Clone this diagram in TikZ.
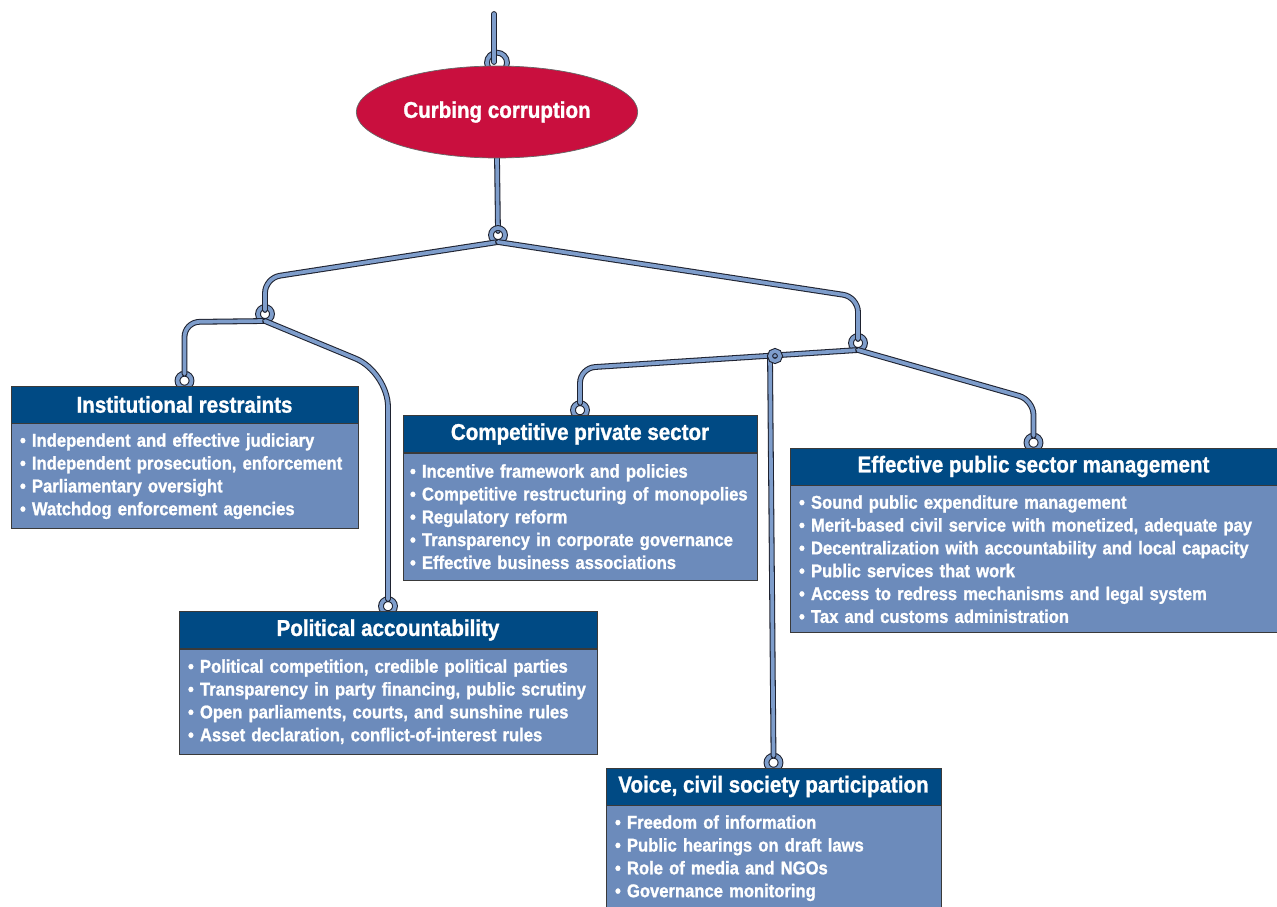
\documentclass[tikz,border=0pt]{standalone}
\usepackage{fontspec}
\setmainfont{Liberation Sans}[FakeStretch=0.9, BoldFeatures={FakeBold=1.2}]
\usetikzlibrary{positioning,shapes.geometric,backgrounds}
\definecolor{hdblue}{HTML}{004A84}
\definecolor{bodyblue}{HTML}{6C8BBB}
\definecolor{corrred}{HTML}{C90F3E}
\definecolor{wireblue}{HTML}{7E9DCB}
\definecolor{wireedge}{HTML}{1E2230}
\definecolor{boxline}{HTML}{3A3A3A}
\newcommand{\hdfont}{\fontsize{13}{15}\selectfont\bfseries}
\newcommand{\itemfont}{\fontsize{10.5}{13}\selectfont\bfseries\hyphenpenalty=10000}
\tikzset{
  hdbox/.style={draw=boxline, fill=hdblue, text=white, font=\hdfont, minimum height=0.74cm, inner sep=0pt},
  itembox/.style={draw=boxline, fill=bodyblue, text=white, font=\itemfont, align=left, inner xsep=0.18cm, inner ysep=0pt},
  wire/.style={draw=wireedge, line width=0.6pt, double=wireblue, double distance=2.1pt, rounded corners=0.3cm, line cap=round},
  eye/.style={wire, rounded corners=0pt}
}

\begin{document}
\begin{tikzpicture}[x=0.02cm, y=-0.02cm]
\useasboundingbox (0,0) rectangle (1277,906);

\node[ellipse, fill=corrred, draw=black!60, minimum width=5.56cm, minimum height=1.84cm, text=white, font=\hdfont] (curb) at (497,112) {Curbing corruption};

% boxes
\node[hdbox, minimum width=6.94cm] (insthd) at (184.5,404.5) {Institutional restraints};
\node[itembox, text width=6.58cm, minimum height=2.1cm, below=0pt of insthd] (instlist) {\textbullet\ Independent and effective judiciary\\
\textbullet\ Independent prosecution, enforcement\\
\textbullet\ Parliamentary oversight\\
\textbullet\ Watchdog enforcement agencies};

\node[hdbox, minimum width=7.08cm] (comphd) at (580,434) {Competitive private sector};
\node[itembox, inner xsep=0.14cm, text width=6.8cm, minimum height=2.54cm, below=0pt of comphd] (complist) {\textbullet\ Incentive framework and policies\\
\textbullet\ Competitive restructuring of monopolies\\
\textbullet\ Regulatory reform\\
\textbullet\ Transparency in corporate governance\\
\textbullet\ Effective business associations};

\node[hdbox, minimum width=9.74cm] (effhd) at (1033.5,466.5) {Effective public sector management};
\node[itembox, text width=9.38cm, minimum height=2.94cm, below=0pt of effhd] (efflist) {\textbullet\ Sound public expenditure management\\
\textbullet\ Merit-based civil service with monetized, adequate pay\\
\textbullet\ Decentralization with accountability and local capacity\\
\textbullet\ Public services that work\\
\textbullet\ Access to redress mechanisms and legal system\\
\textbullet\ Tax and customs administration};

\node[hdbox, minimum width=8.36cm] (polhd) at (388,630) {Political accountability};
\node[itembox, text width=8cm, minimum height=2.1cm, below=0pt of polhd] (pollist) {\textbullet\ Political competition, credible political parties\\
\textbullet\ Transparency in party financing, public scrutiny\\
\textbullet\ Open parliaments, courts, and sunshine rules\\
\textbullet\ Asset declaration, conflict-of-interest rules};

\node[hdbox, minimum width=6.7cm] (voicehd) at (773.5,786.5) {Voice, civil society participation};
\node[itembox, text width=6.34cm, minimum height=2.1cm, below=0pt of voicehd] (voicelist) {\textbullet\ Freedom of information\\
\textbullet\ Public hearings on draft laws\\
\textbullet\ Role of media and NGOs\\
\textbullet\ Governance monitoring};

% hanging points
\coordinate (top) at (494,14);
\coordinate (j1) at (498,235);
\coordinate (j2) at (265,314);
\coordinate (j3) at (858,343);
\coordinate (hook) at (775,356);

\begin{scope}[on background layer]
\draw[eye] ([yshift=0.06cm]curb.north) circle (0.2cm);
\draw[wire] (top) -- (top |- 0,62);
\draw[wire] (curb.south) -- ([yshift=0.08cm]j1);
\foreach \j in {j1,j2,j3}
  \draw[eye] (\j) circle (0.14cm);
\foreach \b in {insthd,comphd,effhd,polhd,voicehd}
  \draw[eye] ([yshift=0.1cm]\b.north) circle (0.14cm);
% bars
\draw[wire] ([yshift=-0.14cm]j2) -- (insthd.north |- 0,322) -- ([yshift=0.24cm]insthd.north);
\draw[wire] ([yshift=-0.14cm]j1) -- (j2 |- 0,278) -- ([yshift=0.08cm]j2);
\draw[wire] ([yshift=-0.14cm]j1) -- (j3 |- 0,297) -- ([yshift=0.08cm]j3);
\draw[wire, rounded corners=0.7cm] ([yshift=-0.14cm]j2) -- (polhd.north |- 0,372) -- ([yshift=0.24cm]polhd.north);
\draw[wire] ([yshift=-0.14cm]j3) -- (comphd.north |- 0,368) -- ([yshift=0.24cm]comphd.north);
\draw[wire] ([yshift=-0.14cm]j3) -- (effhd.north |- 0,400) -- ([yshift=0.24cm]effhd.north);
\end{scope}
\draw[wire] ([yshift=0.24cm]voicehd.north) -- ([xshift=-0.1cm]hook);
\draw[eye] (hook) circle (0.1cm);
\end{tikzpicture}
\end{document}
